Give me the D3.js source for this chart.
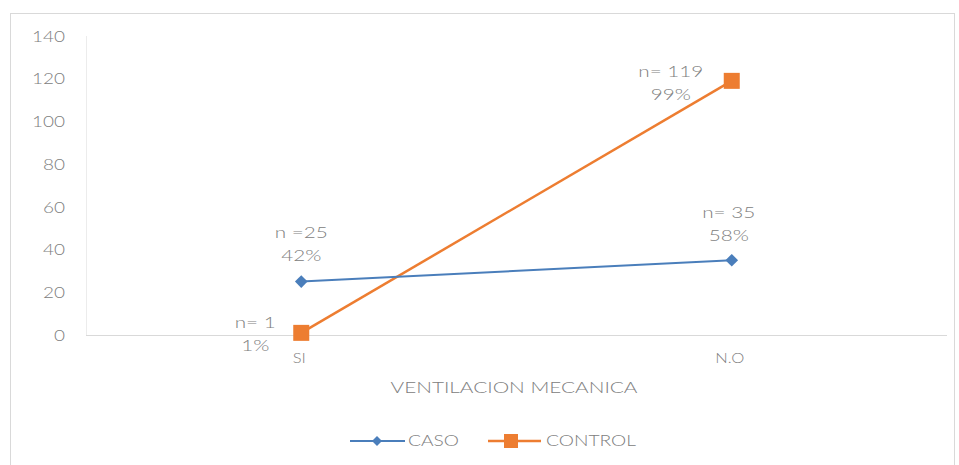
<!DOCTYPE html>
<html>
<head>
<meta charset="utf-8">
<script src="https://cdn.jsdelivr.net/npm/d3@7"></script>
<style>
  body { margin: 0; background: #fff; }
  text { font-family: Lato, "Open Sans", sans-serif; fill: #808080; font-weight: 300; }
</style>
</head>
<body>
<div class="chart"></div>
<script>
var categories = ["SI", "N.O"];
var casoValues = [25, 35];
var controlValues = [1, 119];
var casoLabels = [["n =25", "42%"], ["n= 35", "58%"]];
var controlLabels = [["n= 1", "1%"], ["n= 119", "99%"]];
var yTicks = [0, 20, 40, 60, 80, 100, 120, 140];

var W = 959, H = 465;
var margin = {top: 36, left: 86},
    width = 947 - margin.left,
    height = 335 - margin.top;

var svg = d3.select(".chart").append("svg")
    .attr("width", W)
    .attr("height", H);

// the source picture is stretched sideways, so widen text to match
function stretch(sel, ref, target) {
  var k = target / ref;
  sel.each(function() {
    var len = this.getComputedTextLength();
    d3.select(this)
      .attr("textLength", len * k)
      .attr("lengthAdjust", "spacingAndGlyphs");
  });
}
function measure(str, size) {
  var t = svg.append("text").style("font-size", size).text(str);
  var len = t.node().getComputedTextLength();
  t.remove();
  return len;
}

// outer frame
svg.append("rect")
    .attr("x", 10.5).attr("y", 13.5)
    .attr("width", 944).attr("height", 470)
    .attr("fill", "none")
    .attr("stroke", "#d9d9d9");

var g = svg.append("g")
    .attr("transform", "translate(" + margin.left + "," + margin.top + ")");

var x = d3.scaleBand().domain(categories).range([0, width]);
var y = d3.scaleLinear().domain([0, 140]).range([height, 0]);

g.append("line")
    .attr("x1", 0.5).attr("x2", 0.5)
    .attr("y1", 0).attr("y2", height)
    .attr("stroke", "#ececec");

g.append("line")
    .attr("x1", 0).attr("x2", width)
    .attr("y1", height + 0.5).attr("y2", height + 0.5)
    .attr("stroke", "#d9d9d9");

var yt = g.selectAll(".ytick")
    .data(yTicks)
  .enter().append("text")
    .attr("class", "ytick")
    .attr("x", -21)
    .attr("y", function(d) { return y(d); })
    .attr("dy", "0.36em")
    .attr("text-anchor", "end")
    .style("font-size", "16px")
    .text(function(d) { return d; });
stretch(yt, measure("140", "16px"), 33);

var xt = g.selectAll(".xtick")
    .data(categories)
  .enter().append("text")
    .attr("class", "xtick")
    .attr("x", function(d) { return x(d) + x.bandwidth() / 2 - 2; })
    .attr("y", height + 28)
    .attr("text-anchor", "middle")
    .style("font-size", "13px")
    .text(function(d) { return d; });
stretch(xt, measure("N.O", "13px"), 29);

var title = svg.append("text")
    .attr("x", 514)
    .attr("y", 393)
    .attr("text-anchor", "middle")
    .style("font-size", "16px")
    .text("VENTILACION MECANICA");
title.attr("textLength", 247).attr("lengthAdjust", "spacingAndGlyphs");

function cx(i) { return x(categories[i]) + x.bandwidth() / 2; }

var line = d3.line()
    .x(function(d, i) { return cx(i); })
    .y(function(d) { return y(d); });

var casoColor = "#4a7ebb", controlColor = "#ed7d31";

g.append("path")
    .datum(controlValues)
    .attr("fill", "none")
    .attr("stroke", controlColor)
    .attr("stroke-width", 2.5)
    .attr("d", line);

g.append("path")
    .datum(casoValues)
    .attr("fill", "none")
    .attr("stroke", casoColor)
    .attr("stroke-width", 2)
    .attr("d", line);

// square turned 45deg reads as the even diamond of the original
var diamond = d3.symbol().type(d3.symbolSquare).size(80);
var smallDiamond = d3.symbol().type(d3.symbolSquare).size(50);

g.selectAll(".caso-pt")
    .data(casoValues)
  .enter().append("path")
    .attr("class", "caso-pt")
    .attr("d", diamond)
    .attr("transform", function(d, i) { return "translate(" + cx(i) + "," + y(d) + ") rotate(45)"; })
    .attr("fill", casoColor);

g.selectAll(".control-pt")
    .data(controlValues)
  .enter().append("rect")
    .attr("class", "control-pt")
    .attr("x", function(d, i) { return cx(i) - 8; })
    .attr("y", function(d) { return y(d) - 8; })
    .attr("width", 16).attr("height", 16)
    .attr("fill", controlColor);

// data labels
var labelRef = measure("n= 119", "15px");
function addLabel(lines, lx, ly) {
  lines.forEach(function(s, k) {
    var t = g.append("text")
        .attr("class", "dlabel")
        .attr("x", lx)
        .attr("y", ly + k * 23)
        .attr("dy", "0.36em")
        .attr("text-anchor", "middle")
        .style("font-size", "15px")
        .text(s);
    stretch(t, labelRef, 65);
  });
}

addLabel(casoLabels[0], cx(0), y(casoValues[0]) - 49);
addLabel(casoLabels[1], cx(1) - 3, y(casoValues[1]) - 48);
addLabel(controlLabels[0], cx(0) - 46, y(controlValues[0]) - 10);
addLabel(controlLabels[1], cx(1) - 61, y(controlValues[1]) - 9);

// legend
var legend = svg.append("g").attr("transform", "translate(0,441)");
var legRef = measure("CONTROL", "15px");

legend.append("line")
    .attr("x1", 350).attr("x2", 405).attr("y1", 0).attr("y2", 0)
    .attr("stroke", casoColor).attr("stroke-width", 2);
legend.append("path")
    .attr("d", smallDiamond)
    .attr("transform", "translate(377,0) rotate(45)")
    .attr("fill", casoColor);
var l1 = legend.append("text")
    .attr("x", 408).attr("y", 0).attr("dy", "0.36em")
    .style("font-size", "15px")
    .text("CASO");

legend.append("line")
    .attr("x1", 488).attr("x2", 541).attr("y1", 0).attr("y2", 0)
    .attr("stroke", controlColor).attr("stroke-width", 2.5);
legend.append("rect")
    .attr("x", 504).attr("y", -7)
    .attr("width", 14).attr("height", 14)
    .attr("fill", controlColor);
var l2 = legend.append("text")
    .attr("x", 546).attr("y", 0).attr("dy", "0.36em")
    .style("font-size", "15px")
    .text("CONTROL");
stretch(l1, legRef, 90);
stretch(l2, legRef, 90);
</script>
</body>
</html>
